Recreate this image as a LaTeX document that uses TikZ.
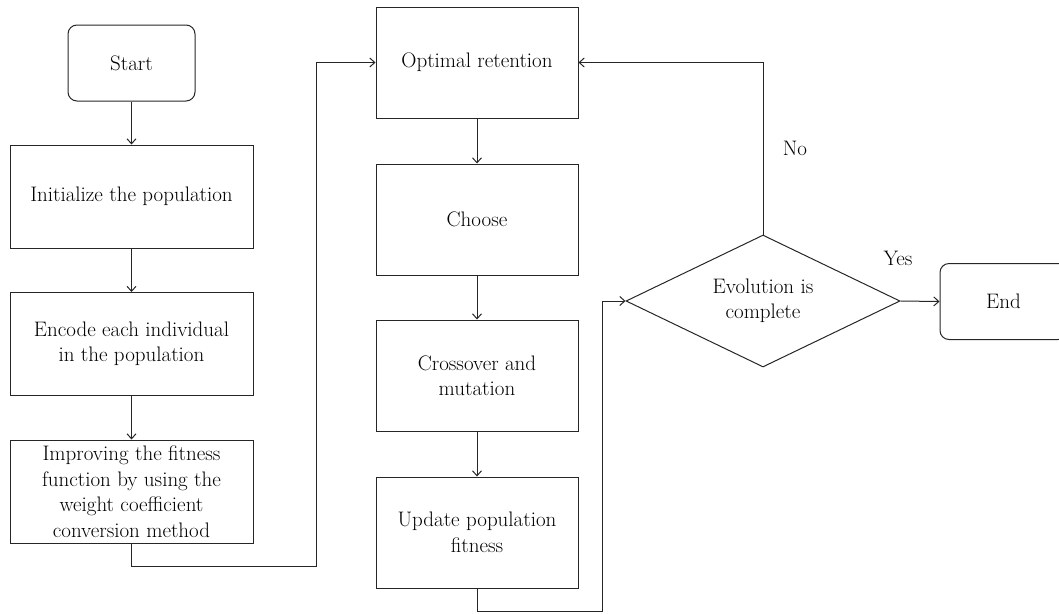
\documentclass[tikz,border=0pt]{standalone}
\usepackage{amsmath, amssymb}
\usetikzlibrary{arrows.meta}
\usetikzlibrary{shapes}

\begin{document}
\begin{tikzpicture}[x = 1pt, y = -1pt, font=\fontsize{21}{25.5}\selectfont]
	\tikzstyle{stepStyle} = [shape = rectangle, draw = black!85, line width = 1pt, inner sep = 0pt, minimum width = 243pt, minimum height = 103pt, align = center]
	\tikzstyle{loopStyle} = [shape = rectangle, draw = black!85, line width = 1pt, inner sep = 0pt, minimum width = 202pt, minimum height = 111pt, align = center]
	\tikzstyle{termStyle} = [shape = rectangle, rounded corners = 9pt, draw = black!85, line width = 1pt, inner sep = 0pt, minimum width = 127pt, minimum height = 76pt]
	\tikzstyle{testStyle} = [shape = diamond, aspect = 2.075, draw = black!85, line width = 1pt, inner sep = 0pt, minimum width = 274pt, minimum height = 132pt, align = center]
	\tikzstyle{flowStyle} = [draw = black!85, line width = 1pt, -{Straight Barb[length = 5pt, width = 9pt]}]
	\clip (0, 0) rectangle (1059, 614);
	\node[termStyle] (start) at (131.5, 63) {Start};
	\node[stepStyle] (init) at (131.5, 196.5) {Initialize the population};
	\node[stepStyle] (encode) at (131.5, 344) {Encode each individual\\in the population};
	\node[stepStyle] (improve) at (131.5, 491.5) {Improving the fitness\\function by using the\\weight coefficient\\conversion method};
	\node[loopStyle] (retain) at (477, 62.5) {Optimal retention};
	\node[loopStyle] (choose) at (477, 219.5) {Choose};
	\node[loopStyle] (cross) at (477, 375.5) {Crossover and\\mutation};
	\node[loopStyle] (update) at (477, 532.5) {Update population\\fitness};
	\node[testStyle] (evolved) at (763, 301) {Evolution is\\complete};
	\node[termStyle] (end) at (1003.5, 301.5) {End};
	\node (no) at (795, 148) {No};
	\node (yes) at (898, 258) {Yes};
	\coordinate (leftTurn) at (316, 566);
	\coordinate (rightTurn) at (602, 611);
	\draw[flowStyle] (start) -- (init);
	\draw[flowStyle] (init) -- (encode);
	\draw[flowStyle] (encode) -- (improve);
	\draw[flowStyle] (improve.south) |- (leftTurn) |- (retain.west);
	\draw[flowStyle] (retain) -- (choose);
	\draw[flowStyle] (choose) -- (cross);
	\draw[flowStyle] (cross) -- (update);
	\draw[flowStyle] (update.south) |- (rightTurn) |- (evolved.west);
	\draw[flowStyle] (evolved.north) |- (retain.east);
	\draw[flowStyle] (evolved.east) -- (end.west);
\end{tikzpicture}
\end{document}
